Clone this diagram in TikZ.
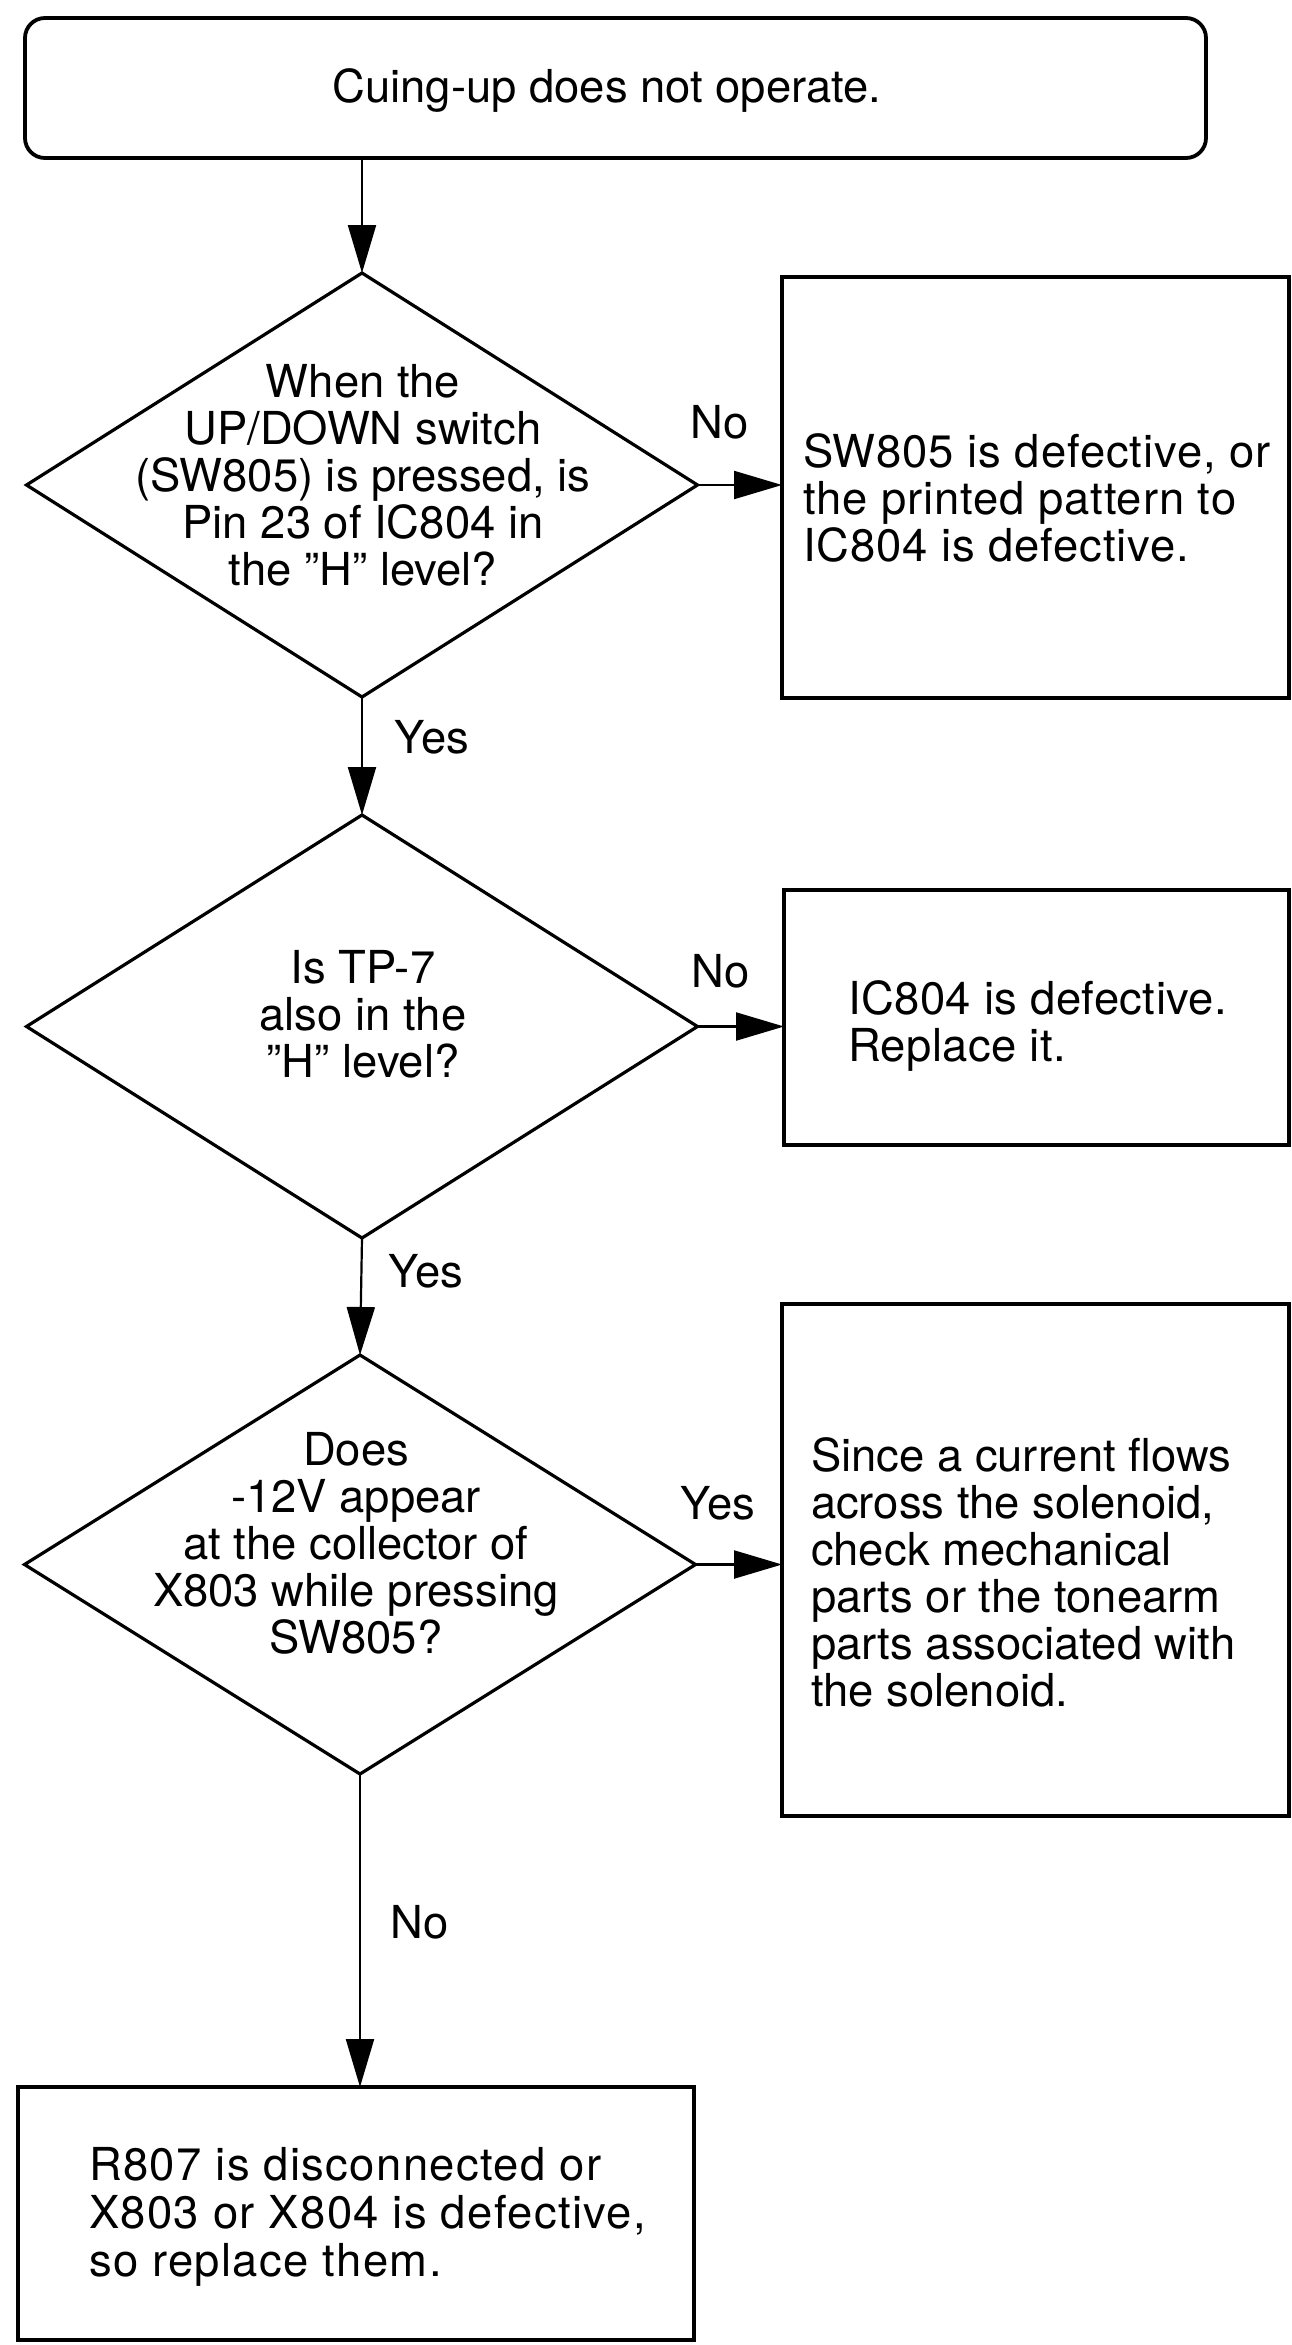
\documentclass[tikz,border=0pt]{standalone}
\usepackage{fontspec}
\setmainfont{TeX Gyre Heros}
\usetikzlibrary{shapes.geometric,arrows.meta}
\begin{document}
\begin{tikzpicture}[x=0.5pt,y=-0.5pt,
  every node/.style={inner sep=0pt, outer sep=0pt},
  txt/.style={font=\fontsize{22.7pt}{23.5pt}\selectfont},
  boxnode/.style={draw, line width=1.9pt, rectangle},
  decision/.style={draw, line width=1.6pt, diamond},
  arr/.style={line width=1.1pt, -{Triangle[length=24pt,width=14pt]}}]
\useasboundingbox (0,0) rectangle (1291,2345);
% start box
\node[boxnode, rounded corners=10pt, minimum width=590.5pt, minimum height=70pt] (top) at (615.5,88) {};
\node[txt] (ttop) at (607,90) {Cuing-up does not operate.};
% decisions
\node[decision, minimum width=335.5pt, minimum height=212pt] (d1) at (362,485) {};
\node[txt, align=center] (td1) at (363,475) {When the\\UP/DOWN switch\\(SW805) is pressed, is\\Pin 23 of IC804 in\\the ''H'' level?};
\node[decision, minimum width=335.5pt, minimum height=211.5pt] (d2) at (362,1026.5) {};
\node[txt, align=center] (td2) at (363,1014) {Is TP-7\\also in the\\''H'' level?};
\node[decision, minimum width=335.5pt, minimum height=209.5pt] (d3) at (360,1564.5) {};
\node[txt, align=center] (td3) at (356,1543) {Does\\-12V appear\\at the collector of\\X803 while pressing\\SW805?};
% result boxes
\node[boxnode, minimum width=253.5pt, minimum height=210.5pt] (b1) at (1035.5,487.5) {};
\node[txt, align=left, anchor=west, font=\fontsize{22.7pt}{23.5pt}\selectfont\addfontfeature{LetterSpace=2}] (tb1) at (803,498) {SW805 is defective, or\\the printed pattern to\\IC804 is defective.};
\node[boxnode, minimum width=252.5pt, minimum height=127.5pt] (b2) at (1036.5,1017.5) {};
\node[txt, align=left, anchor=west, font=\fontsize{22.7pt}{23.5pt}\selectfont\addfontfeature{LetterSpace=1}] (tb2) at (848,1026) {IC804 is defective.\\Replace it.};
\node[boxnode, minimum width=253.5pt, minimum height=256pt] (b3) at (1035.5,1560) {};
\node[txt, align=left, anchor=west] (tb3) at (811,1572) {Since a current flows\\across the solenoid,\\check mechanical\\parts or the tonearm\\parts associated with\\the solenoid.};
\node[boxnode, minimum width=338pt, minimum height=126.5pt] (b4) at (356,2213.5) {};
\node[txt, align=left, anchor=west, font=\fontsize{22.7pt}{24pt}\selectfont\addfontfeature{LetterSpace=3}] (tb4) at (89,2217) {R807 is disconnected or\\X803 or X804 is defective,\\so replace them.};
% labels
\node[txt] (l1) at (720,422) {No};
\node[txt] (l2) at (432,737) {Yes};
\node[txt] (l3) at (721,971) {No};
\node[txt] (l4) at (426,1271) {Yes};
\node[txt] (l5) at (718,1503) {Yes};
\node[txt] (l6) at (420,1922) {No};
% connectors
\draw[arr] (top.south -| d1.north) -- (d1.north);
\draw[arr] (d1.east) -- (d1.east -| b1.west);
\draw[arr] (d1.south) -- (d2.north);
\draw[arr] (d2.east) -- (d2.east -| b2.west);
\draw[arr] (d2.south) -- (d3.north);
\draw[arr] (d3.east) -- (d3.east -| b3.west);
\draw[arr] (d3.south) -- (d3.south |- b4.north);
\end{tikzpicture}
\end{document}
